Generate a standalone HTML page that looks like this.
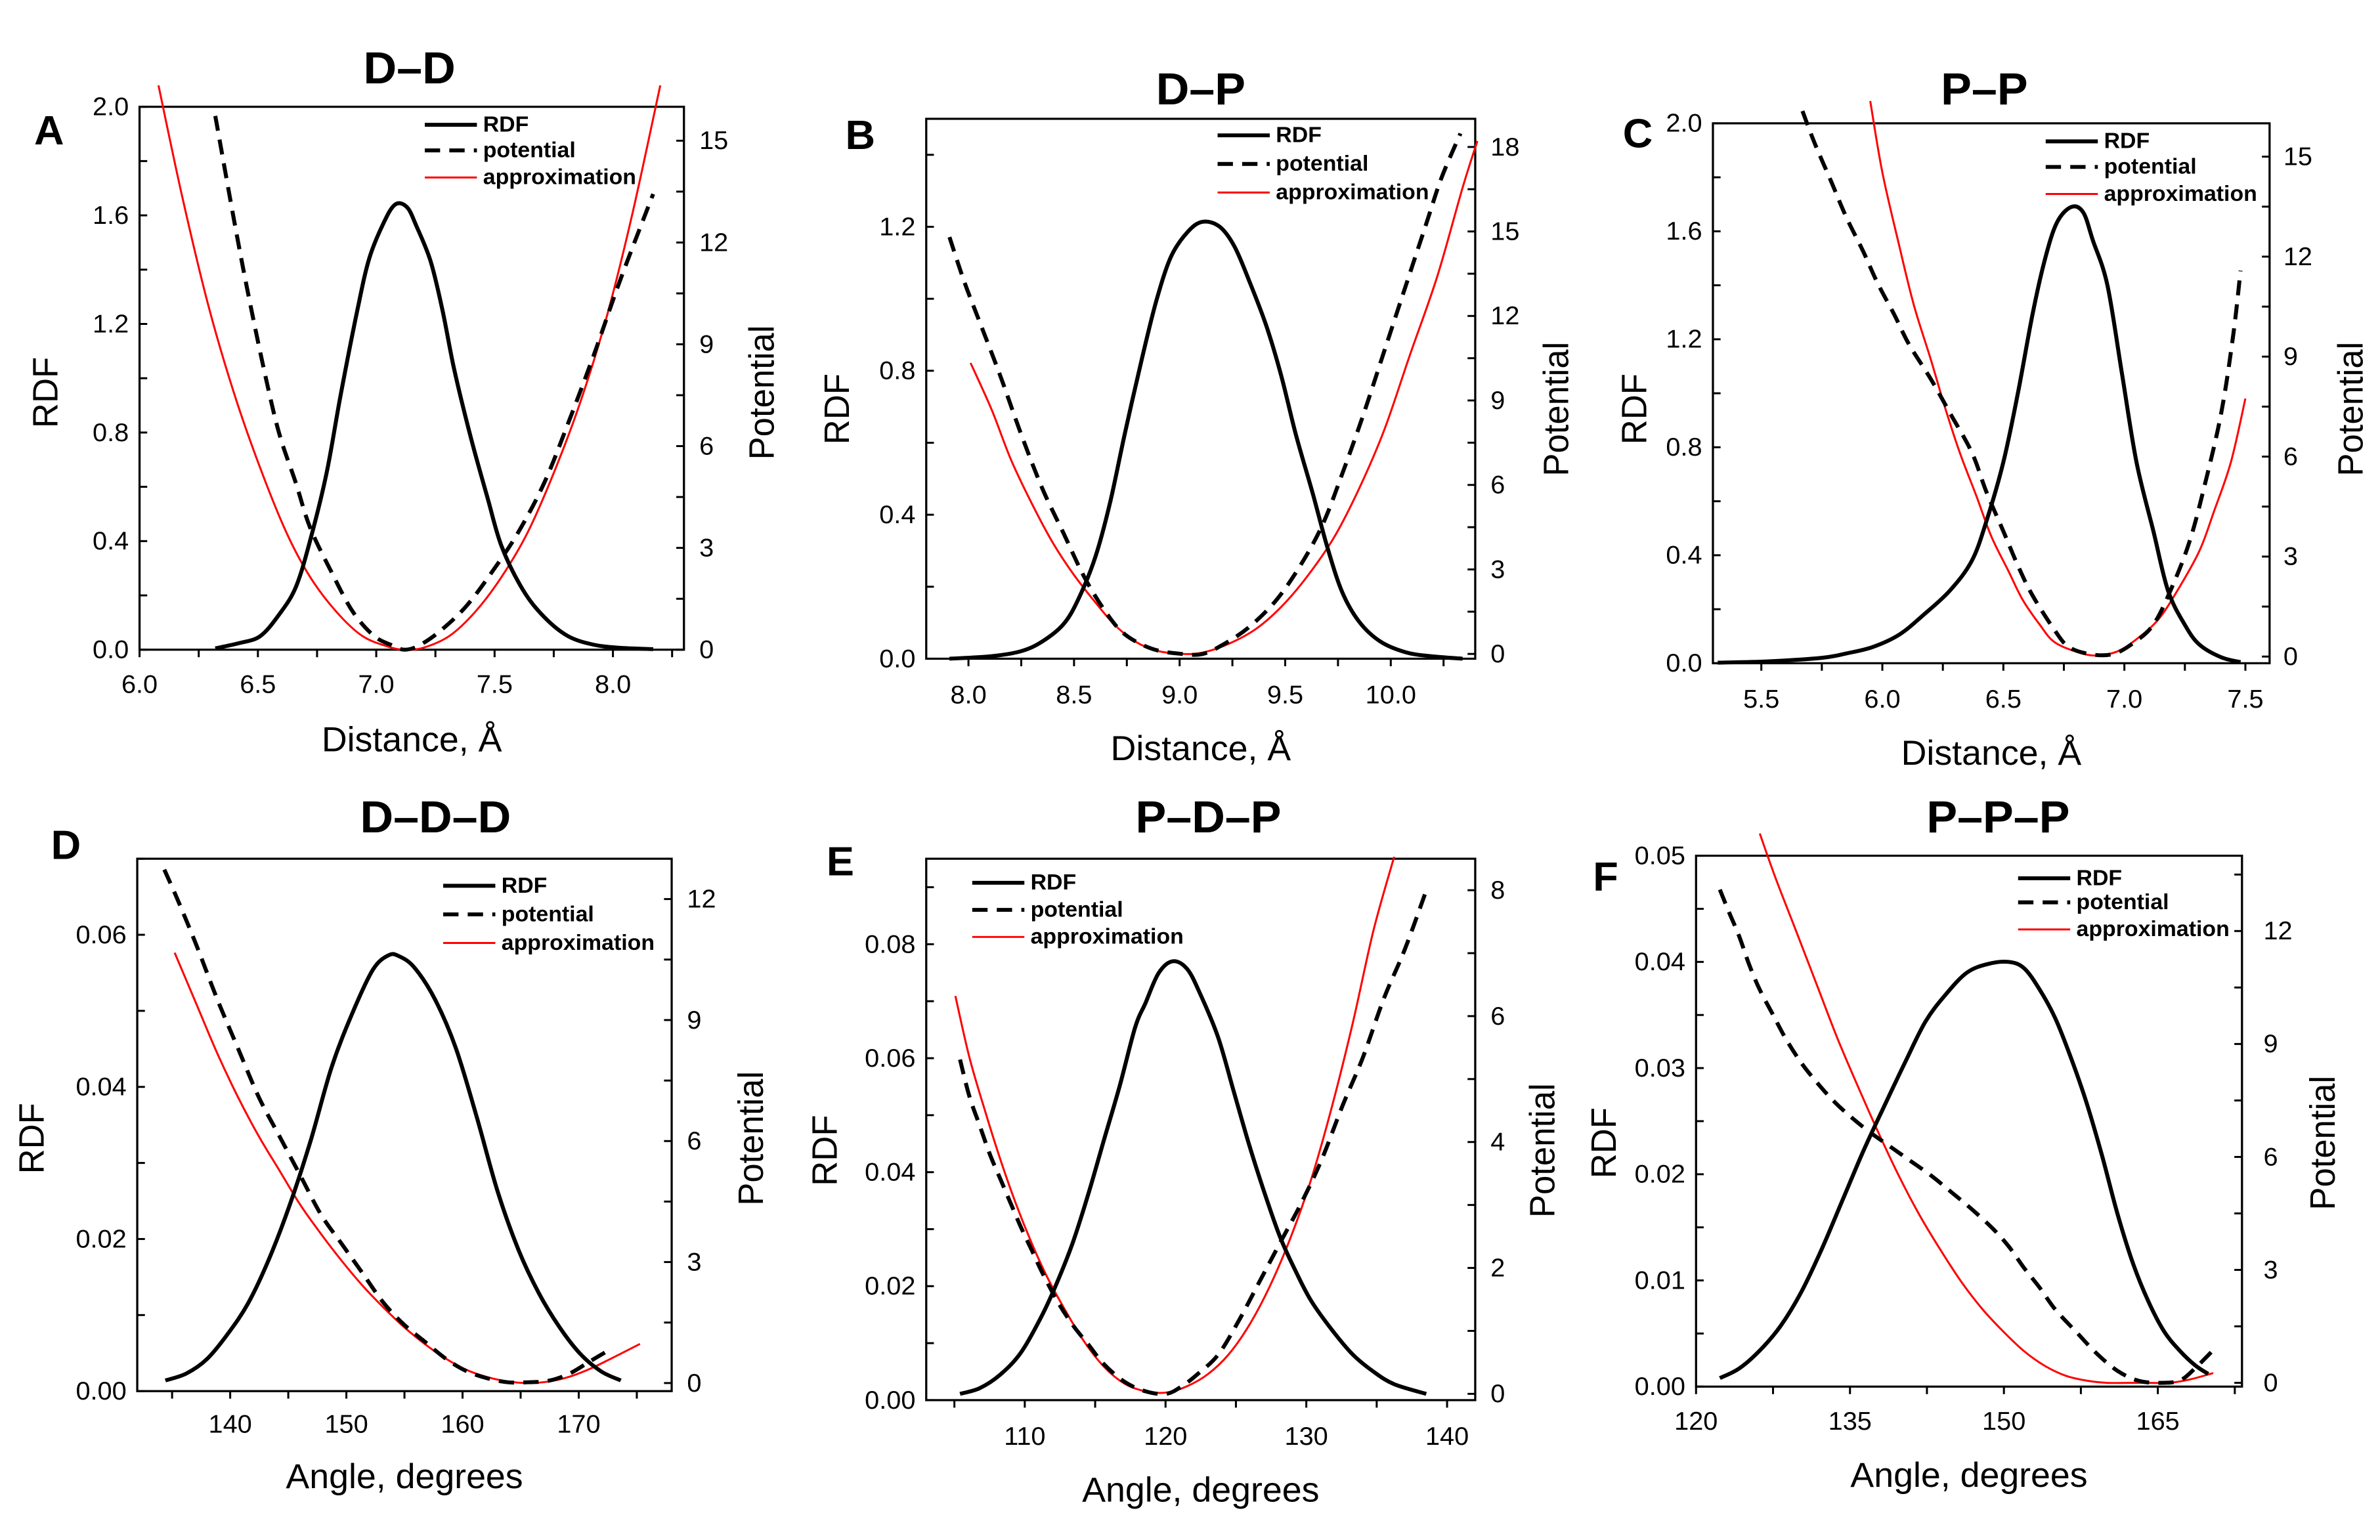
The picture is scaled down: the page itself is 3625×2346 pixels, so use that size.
<!DOCTYPE html>
<html><head><meta charset="utf-8"><style>
html,body{margin:0;padding:0;background:#fff;}
svg{display:block;}
text{font-family:"Liberation Sans",Arial,sans-serif;fill:#000;}
</style></head><body>
<svg id="fig" width="3625" height="2346" viewBox="0 0 1552 1024" preserveAspectRatio="none" xmlns="http://www.w3.org/2000/svg"></svg>
<script>
// Panel A
const aRdfX=[6.32,6.42,6.51,6.59,6.66,6.72,6.79,6.85,6.92,6.97,7.03,7.08,7.13,7.17,7.23,7.28,7.33,7.40,7.47,7.53,7.62,7.71,7.81,7.92,8.03,8.17];
const aRdfY=[0.005,0.024,0.05,0.13,0.23,0.40,0.65,0.94,1.25,1.44,1.57,1.64,1.63,1.56,1.43,1.25,1.03,0.78,0.56,0.38,0.22,0.12,0.05,0.018,0.007,0.002];
const aPotX=[6.32,6.40,6.46,6.53,6.59,6.66,6.72,6.81,6.90,6.99,7.07,7.12,7.18,7.27,7.38,7.49,7.60,7.71,7.81,7.92,8.03,8.17];
const aPotY=[15.73,12.63,10.45,8.12,6.37,4.92,3.61,2.30,1.13,0.41,0.12,0,0.12,0.55,1.28,2.30,3.46,4.92,6.66,8.70,10.88,13.43];
const aAppX=[6.08,6.18,6.29,6.40,6.51,6.62,6.72,6.83,6.94,7.05,7.12,7.20,7.31,7.42,7.53,7.64,7.75,7.86,7.97,8.08,8.20];
const aAppY=[16.63,13.36,10.16,7.54,5.35,3.46,2.15,1.13,0.41,0.09,0,0.06,0.41,1.13,2.15,3.46,5.21,7.25,9.72,12.78,16.63];
// Panel B
const bRdfX=[7.91,8.11,8.25,8.35,8.45,8.52,8.60,8.67,8.74,8.82,8.89,8.96,9.04,9.11,9.19,9.26,9.33,9.41,9.48,9.55,9.63,9.70,9.77,9.85,9.95,10.07,10.19,10.34];
const bRdfY=[0,0.007,0.021,0.048,0.096,0.165,0.281,0.432,0.624,0.830,0.995,1.118,1.187,1.214,1.200,1.145,1.049,0.926,0.789,0.624,0.460,0.309,0.185,0.103,0.048,0.018,0.007,0];
const bPotX=[7.91,7.98,8.06,8.15,8.25,8.35,8.45,8.55,8.65,8.74,8.87,9.01,9.11,9.21,9.33,9.46,9.58,9.68,9.77,9.87,9.97,10.07,10.17,10.24,10.33];
const bPotY=[14.80,13.22,11.65,9.89,7.79,5.87,4.29,2.71,1.49,0.70,0.18,0,0,0.35,0.96,1.93,3.24,4.64,6.39,8.49,10.77,13.05,15.32,16.90,18.48];
const bAppX=[8.01,8.11,8.20,8.30,8.40,8.50,8.60,8.69,8.79,8.89,9.01,9.11,9.23,9.36,9.48,9.60,9.73,9.85,9.97,10.09,10.22,10.34,10.41];
const bAppY=[10.33,8.67,6.92,5.34,3.94,2.80,1.84,1.05,0.44,0.12,0,0.05,0.35,0.88,1.66,2.71,4.12,5.87,7.97,10.60,13.40,16.55,18.21];
// Panel C
const cRdfX=[5.32,5.53,5.75,5.85,5.96,6.07,6.17,6.28,6.37,6.43,6.50,6.56,6.62,6.67,6.72,6.78,6.83,6.87,6.93,6.99,7.05,7.12,7.18,7.25,7.31,7.40,7.48];
const cRdfY=[0.002,0.007,0.02,0.036,0.06,0.106,0.179,0.27,0.38,0.526,0.745,1.0,1.29,1.49,1.63,1.69,1.67,1.566,1.40,1.073,0.745,0.489,0.27,0.142,0.069,0.022,0.004];
const cPotX=[5.67,5.72,5.79,5.85,5.92,5.98,6.05,6.11,6.20,6.28,6.37,6.43,6.50,6.56,6.62,6.71,6.77,6.86,6.95,7.03,7.12,7.20,7.27,7.33,7.40,7.45,7.48];
const cPotY=[16.37,15.41,14.23,13.20,12.17,11.21,10.25,9.37,8.33,7.30,6.12,4.94,3.76,2.73,1.84,0.81,0.29,0.07,0.07,0.37,0.96,2.14,3.47,5.09,7.30,9.66,11.58];
const cAppX=[5.95,6.00,6.07,6.13,6.20,6.26,6.32,6.39,6.45,6.52,6.58,6.65,6.71,6.80,6.88,6.97,7.05,7.14,7.22,7.31,7.37,7.44,7.50];
const cAppY=[16.67,14.53,12.32,10.55,8.92,7.45,6.12,4.79,3.61,2.58,1.70,0.96,0.44,0.15,0.03,0.15,0.52,1.11,1.99,3.17,4.35,5.83,7.74];
// Panel D
const dRdfX=[134.42,136.21,137.99,139.78,141.56,143.35,145.13,146.92,148.71,150.49,152.28,153.62,154.51,155.85,157.63,159.42,161.21,162.99,164.78,166.56,168.35,170.13,171.92,173.62];
const dRdfY=[0.0014,0.0023,0.0042,0.0075,0.0116,0.0174,0.0245,0.0329,0.0425,0.0496,0.0554,0.0573,0.0572,0.0557,0.0515,0.0451,0.0361,0.0264,0.0187,0.0129,0.0084,0.0049,0.0026,0.0014];
const dPotX=[134.33,135.54,137.10,138.88,140.67,142.46,144.24,146.03,147.81,149.60,151.38,153.17,154.96,156.74,158.53,160.31,162.10,163.88,165.67,167.46,169.24,171.03,172.81];
const dPotY=[12.73,11.94,10.85,9.52,8.30,7.09,6.12,5.15,4.18,3.45,2.73,2.00,1.45,1.03,0.61,0.30,0.12,0.02,0.02,0.06,0.24,0.55,0.85];
const dAppX=[135.22,137.10,138.88,140.67,142.46,144.24,146.03,147.81,149.60,151.38,153.17,154.96,156.74,158.53,160.31,162.10,163.88,165.67,167.46,169.24,171.03,172.81,175.27];
const dAppY=[10.67,9.39,8.18,7.09,6.12,5.27,4.42,3.70,3.03,2.42,1.88,1.39,0.97,0.61,0.33,0.15,0.04,0,0.04,0.16,0.36,0.61,0.97];
// Panel E
const eRdfX=[105.40,106.80,108.27,109.74,111.21,112.32,113.42,114.53,115.63,116.74,117.84,118.58,119.50,120.49,121.52,122.44,123.73,124.83,125.94,127.04,128.14,129.25,130.35,131.83,133.30,134.77,136.24,138.52];
const eRdfY=[0.0011,0.0021,0.0045,0.0084,0.0148,0.0208,0.0277,0.0363,0.0457,0.0551,0.0654,0.0697,0.0749,0.0770,0.0757,0.0714,0.0637,0.0543,0.0448,0.0363,0.0286,0.0226,0.0174,0.0123,0.0080,0.0050,0.0028,0.0011];
const ePotX=[105.40,106.06,106.80,107.53,108.27,109.01,109.74,110.48,111.21,112.32,113.42,114.53,115.63,117.10,118.58,120.05,121.15,122.26,123.73,125.20,126.67,128.14,129.62,131.09,132.56,134.03,135.51,136.98,138.45];
const ePotY=[5.31,4.73,4.26,3.80,3.41,3.02,2.64,2.29,1.94,1.47,1.09,0.78,0.47,0.19,0.04,0,0.12,0.31,0.62,1.16,1.78,2.40,3.02,3.72,4.57,5.35,6.28,7.05,7.95];
const eAppX=[105.07,106.06,107.17,108.27,109.37,110.48,111.58,112.69,114.16,115.63,117.10,118.58,120.05,121.52,122.99,124.46,125.94,127.41,128.88,130.35,131.83,133.30,134.77,136.24];
const eAppY=[6.32,5.35,4.50,3.72,3.02,2.40,1.86,1.40,0.85,0.43,0.16,0.04,0.02,0.12,0.31,0.62,1.09,1.71,2.48,3.41,4.57,5.89,7.36,8.53];
// Panel F
const fRdfX=[122.32,124.19,126.21,128.23,130.25,132.27,134.29,136.31,138.33,140.35,142.37,144.39,146.41,148.43,150.45,151.97,153.48,155.00,156.52,158.03,159.55,161.06,162.58,164.09,165.61,167.12,168.64,169.90];
const fRdfY=[0.0008,0.0017,0.0034,0.0057,0.0089,0.0130,0.0176,0.0222,0.0264,0.0305,0.0344,0.0370,0.0390,0.0398,0.0400,0.0394,0.0374,0.0347,0.0310,0.0268,0.0218,0.0163,0.0116,0.0080,0.0052,0.0034,0.0020,0.0012];
const fPotX=[122.32,123.18,124.19,125.20,126.21,127.47,128.74,130.25,131.77,133.28,134.80,136.82,138.84,140.86,142.88,144.90,146.92,148.94,150.45,151.97,153.48,155.00,157.02,159.04,161.06,163.06,165.08,167.12,168.64,170.76];
const fPotY=[13.10,12.52,11.87,11.09,10.44,9.79,9.14,8.50,7.98,7.52,7.13,6.68,6.29,5.90,5.51,5.06,4.60,4.09,3.63,3.05,2.53,1.95,1.36,0.78,0.32,0.06,0,0.06,0.39,0.97];
const fAppX=[126.21,127.73,129.75,131.77,133.79,135.81,137.83,139.85,141.87,143.89,145.91,147.93,149.95,151.97,153.99,156.01,158.03,160.05,162.07,164.09,166.11,168.13,170.40];
const fAppY=[14.59,13.42,12.00,10.57,9.14,7.85,6.61,5.45,4.41,3.50,2.66,1.95,1.36,0.84,0.45,0.19,0.06,0,0,0,0,0.09,0.26];

// Tick label arrays
const aXTicks=["6.0","6.5","7.0","7.5","8.0"], aLTicks=["0.0","0.4","0.8","1.2","1.6","2.0"], aRTicks=["0","3","6","9","12","15"];
const bXTicks=["8.0","8.5","9.0","9.5","10.0"], bLTicks=["0.0","0.4","0.8","1.2"], bRTicks=["0","3","6","9","12","15","18"];
const cXTicks=["5.5","6.0","6.5","7.0","7.5"], cLTicks=["0.0","0.4","0.8","1.2","1.6","2.0"], cRTicks=["0","3","6","9","12","15"];
const dXTicks=["140","150","160","170"], dLTicks=["0.00","0.02","0.04","0.06"], dRTicks=["0","3","6","9","12"];
const eXTicks=["110","120","130","140"], eLTicks=["0.00","0.02","0.04","0.06","0.08"], eRTicks=["0","2","4","6","8"];
const fXTicks=["120","135","150","165"], fLTicks=["0.00","0.01","0.02","0.03","0.04","0.05"], fRTicks=["0","3","6","9","12"];

const NS="http://www.w3.org/2000/svg";
const svg=document.getElementById('fig');
function mk(tag,parent){const e=document.createElementNS(NS,tag);parent.appendChild(e);return e;}

const panels=[
 {id:'a',letter:'A',title:'D–D',L:91,R:446,T:71,B:432,x0:6.0,x1:8.3,xmaj:0.5,xmin:0.25,l0:0,l1:2.0,lmaj:0.4,lmin:0.2,r0:0,r1:16,rmaj:3,rmin:1.5,
  xt:aXTicks,lt:aLTicks,rt:aRTicks,rdf:[aRdfX,aRdfY],pot:[aPotX,aPotY],app:[aAppX,aAppY],xlab:'Distance, Å',
  letterXY:[32,87],titleXY:[267,45],legX:277,legY:[83,100,118],rdfLabX:30,potLabX:497,labY:261,xTickY:455,xTitleY:492,rTickX:456},
 {id:'b',letter:'B',title:'D–P',L:604,R:962,T:79,B:438,x0:7.8,x1:10.4,xmaj:0.5,xmin:0.25,l0:0,l1:1.5,lmaj:0.4,lmin:0.2,r0:-0.17,r1:19,rmaj:3,rmin:1.5,
  xt:bXTicks,lt:bLTicks,rt:bRTicks,rdf:[bRdfX,bRdfY],pot:[bPotX,bPotY],app:[bAppX,bAppY],xlab:'Distance, Å',
  letterXY:[561,90],titleXY:[783,59],legX:794,legY:[90,109,128],rdfLabX:546,potLabX:1015,labY:272,xTickY:462,xTitleY:498,rTickX:972},
 {id:'c',letter:'C',title:'P–P',L:1117,R:1480,T:82,B:441,x0:5.3,x1:7.6,xmaj:0.5,xmin:0.25,l0:0,l1:2.0,lmaj:0.4,lmin:0.2,r0:-0.2,r1:16,rmaj:3,rmin:1.5,
  xt:cXTicks,lt:cLTicks,rt:cRTicks,rdf:[cRdfX,cRdfY],pot:[cPotX,cPotY],app:[cAppX,cAppY],xlab:'Distance, Å',
  letterXY:[1068,89],titleXY:[1294,59],legX:1334,legY:[94,111,129],rdfLabX:1066,potLabX:1533,labY:272,xTickY:465,xTitleY:501,rTickX:1489},
 {id:'d',letter:'D',title:'D–D–D',L:89.5,R:438,T:571,B:925,x0:132,x1:178,xmaj:10,xmin:5,l0:0,l1:0.07,lmaj:0.02,lmin:0.01,r0:-0.2,r1:13,rmaj:3,rmin:1.5,
  xt:dXTicks,lt:dLTicks,rt:dRTicks,rdf:[dRdfX,dRdfY],pot:[dPotX,dPotY],app:[dAppX,dAppY],xlab:'Angle, degrees',
  letterXY:[43,562],titleXY:[284,543],legX:289,legY:[589,608,627],rdfLabX:21,potLabX:490,labY:757,xTickY:947,xTitleY:982,rTickX:448},
 {id:'e',letter:'E',title:'P–D–P',L:604,R:962,T:571,B:931,x0:103,x1:142,xmaj:10,xmin:5,l0:0,l1:0.095,lmaj:0.02,lmin:0.01,r0:-0.1,r1:8.5,rmaj:2,rmin:1,
  xt:eXTicks,lt:eLTicks,rt:eRTicks,rdf:[eRdfX,eRdfY],pot:[ePotX,ePotY],app:[eAppX,eAppY],xlab:'Angle, degrees',
  letterXY:[548,573],titleXY:[788,543],legX:634,legY:[587,605,623],rdfLabX:538,potLabX:1006,labY:765,xTickY:955,xTitleY:991,rTickX:972},
 {id:'f',letter:'F',title:'P–P–P',L:1106,R:1462,T:569,B:922,x0:120,x1:173.2,xmaj:15,xmin:7.5,l0:0,l1:0.05,lmaj:0.01,lmin:0.005,r0:-0.1,r1:14,rmaj:3,rmin:1.5,
  xt:fXTicks,lt:fLTicks,rt:fRTicks,rdf:[fRdfX,fRdfY],pot:[fPotX,fPotY],app:[fAppX,fAppY],xlab:'Angle, degrees',
  letterXY:[1047,583],titleXY:[1303,543],legX:1316,legY:[584,600,618],rdfLabX:1046,potLabX:1515,labY:760,xTickY:945,xTitleY:981,rTickX:1476}
];

function txt(parent,x,y,s,size,opts){const t=mk('text',parent);t.setAttribute('x',x);t.setAttribute('y',y);t.setAttribute('font-size',size);
 t.setAttribute('dominant-baseline','central');if(opts&&opts.anchor)t.setAttribute('text-anchor',opts.anchor);if(opts&&opts.bold)t.setAttribute('font-weight','bold');
 if(opts&&opts.rot)t.setAttribute('transform','rotate(-90 '+x+' '+y+')');t.textContent=s;return t;}
function line(parent,x1,y1,x2,y2,w){const l=mk('line',parent);l.setAttribute('x1',x1);l.setAttribute('y1',y1);l.setAttribute('x2',x2);l.setAttribute('y2',y2);l.setAttribute('stroke','#000');l.setAttribute('stroke-width',w||1.3);return l;}
function smoothD(pts){let d='M'+pts[0][0].toFixed(2)+' '+pts[0][1].toFixed(2);
 for(let i=0;i<pts.length-1;i++){const p0=pts[i-1]||pts[i],p1=pts[i],p2=pts[i+1],p3=pts[i+2]||p2;
  const c1=[p1[0]+(p2[0]-p0[0])/6,p1[1]+(p2[1]-p0[1])/6],c2=[p2[0]-(p3[0]-p1[0])/6,p2[1]-(p3[1]-p1[1])/6];
  d+=' C'+c1[0].toFixed(2)+' '+c1[1].toFixed(2)+' '+c2[0].toFixed(2)+' '+c2[1].toFixed(2)+' '+p2[0].toFixed(2)+' '+p2[1].toFixed(2);}
 return d;}

panels.forEach(p=>{
 const g=mk('g',svg);
 
 
 const sx=v=>p.L+(v-p.x0)/(p.x1-p.x0)*(p.R-p.L);
 const sl=v=>p.B-(v-p.l0)/(p.l1-p.l0)*(p.B-p.T);
 const sr=v=>p.B-(v-p.r0)/(p.r1-p.r0)*(p.B-p.T);
 const eps=1e-6;
 const box=mk('rect',g);box.setAttribute('x',p.L);box.setAttribute('y',p.T);box.setAttribute('width',p.R-p.L);box.setAttribute('height',p.B-p.T);
 box.setAttribute('fill','none');box.setAttribute('stroke','#000');box.setAttribute('stroke-width',1.4);
 
 
 const xg=mk('g',g);
 
 
 let start=Math.ceil((p.x0-eps)/p.xmin)*p.xmin;
 for(let v=start;v<=p.x1+eps;v+=p.xmin){line(xg,sx(v),p.B,sx(v),p.B+5);}
 const xFirst=Math.ceil((p.x0-eps)/p.xmaj)*p.xmaj;
 p.xt.forEach((s,i)=>{const v=xFirst+i*p.xmaj;const t=txt(xg,sx(v),p.xTickY,s,17,{anchor:'middle'});
  
  });
 const xt=txt(xg,(p.L+p.R)/2,p.xTitleY,p.xlab,23,{anchor:'middle'});
 
 
 const lg=mk('g',g);
 
 
 for(let v=p.l0;v<=p.l1+eps;v+=p.lmin){line(lg,p.L,sl(v),p.L+5,sl(v));}
 p.lt.forEach((s,i)=>{const v=p.l0+i*p.lmaj;const t=txt(lg,p.L-7,sl(v),s,17,{anchor:'end'});
  
  });
 const lt=txt(lg,p.rdfLabX,p.labY,'RDF',23,{anchor:'middle',rot:true});
 
 
 const rg=mk('g',g);
 
 
 for(let v=0;v<=p.r1+eps;v+=p.rmin){line(rg,p.R-5,sr(v),p.R,sr(v));}
 p.rt.forEach((s,i)=>{const v=i*p.rmaj;const t=txt(rg,p.rTickX,sr(v),s,17,{anchor:'start'});
  
  });
 const rt=txt(rg,p.potLabX,p.labY,'Potential',23,{anchor:'middle',rot:true});
 
 
 function path(xs,ys,scale,stroke,w,dash,name){const pa=mk('path',g);
  pa.setAttribute('d',smoothD(xs.map((x,i)=>[sx(x),scale(ys[i])])));
  pa.setAttribute('fill','none');pa.setAttribute('stroke',stroke);pa.setAttribute('stroke-width',w);pa.setAttribute('stroke-linejoin','round');
  if(dash)pa.setAttribute('stroke-dasharray',dash);
  
  }
 path(p.app[0],p.app[1],sr,'#ff0000',1.3,null,'approximation-line');
 path(p.pot[0],p.pot[1],sr,'#000',2.6,'10 6','potential-line');
 path(p.rdf[0],p.rdf[1],sl,'#000',2.6,null,'rdf-line');
 const ti=txt(g,p.titleXY[0],p.titleXY[1],p.title,30,{anchor:'middle',bold:true});
 
 
 const le=txt(g,p.letterXY[0],p.letterXY[1],p.letter,27,{anchor:'middle',bold:true});
 
 
 const lgd=mk('g',g);
 
 
 const names=['RDF','potential','approximation'];
 names.forEach((n,i)=>{const y=p.legY[i];const l=line(lgd,p.legX,y,p.legX+34,y,i==2?1.3:2.6);
  if(i==1)l.setAttribute('stroke-dasharray','10 6');if(i==2)l.setAttribute('stroke','#ff0000');
  const t=txt(lgd,p.legX+38,y,n,14.5,{bold:true});
  
  });
});
</script>
</body></html>
